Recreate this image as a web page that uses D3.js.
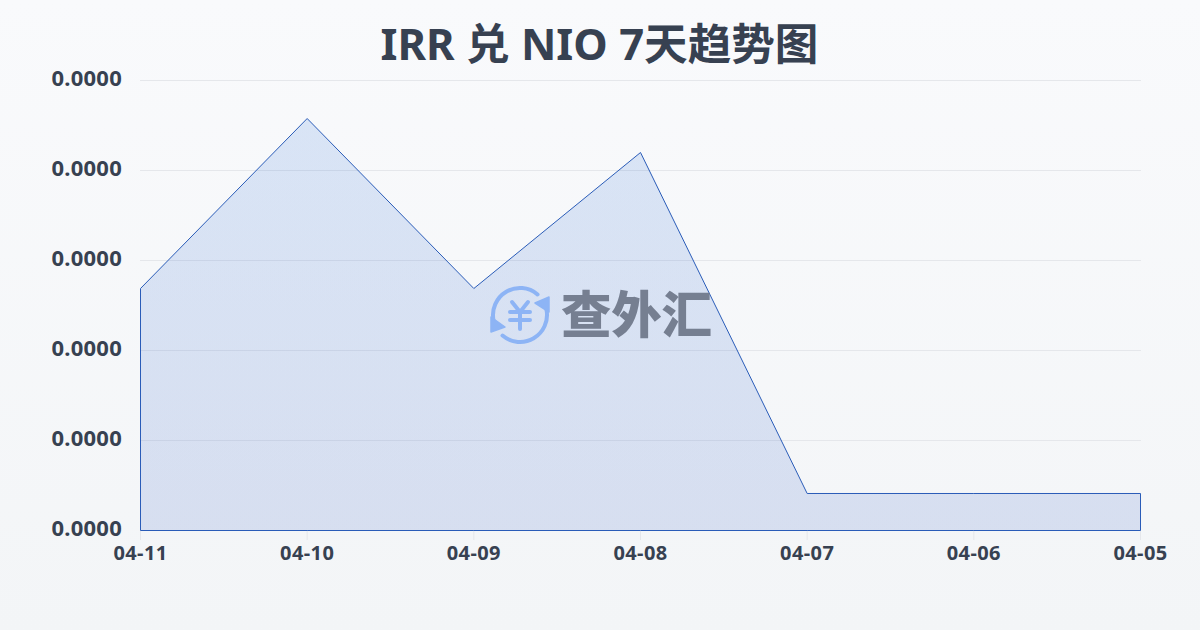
<!DOCTYPE html>
<html lang="zh"><head><meta charset="utf-8">
<script src="https://cdn.jsdelivr.net/npm/d3@7/dist/d3.min.js"></script>
<style>
html,body{margin:0;padding:0;width:1200px;height:630px;overflow:hidden}
svg{display:block}
text{font-family:"Noto Sans","Noto Sans CJK SC",sans-serif}
</style></head><body><svg id="c" width="1200" height="630"></svg>
<script>
const title = "IRR 兑 NIO 7天趋势图";
const dates = ["04-11","04-10","04-09","04-08","04-07","04-06","04-05"];
const rates = [0.00002151,0.00003662,0.00002151,0.00003360,0.00000329,0.00000329,0.00000329];
const yTicks = [0,0.000008,0.000016,0.000024,0.000032,0.00004];

const svg = d3.select("#c");
const defs = svg.append("defs");
const bg = defs.append("linearGradient").attr("id","bg").attr("x1",0).attr("y1",0).attr("x2",0).attr("y2",1);
bg.append("stop").attr("offset",0).attr("stop-color","#f9fafc");
bg.append("stop").attr("offset",1).attr("stop-color","#f3f5f7");
const ag = defs.append("linearGradient").attr("id","ag").attr("x1",0).attr("y1",0).attr("x2",0).attr("y2",1);
ag.append("stop").attr("offset",0).attr("stop-color","#2a6fd8").attr("stop-opacity",0.15);
ag.append("stop").attr("offset",1).attr("stop-color","#2350c0").attr("stop-opacity",0.14);
svg.append("rect").attr("width",1200).attr("height",630).attr("fill","url(#bg)");

const x = d3.scalePoint().domain(dates).range([140.5,1140.5]);
const y = d3.scaleLinear().domain([0,0.00004]).range([530.5,80.5]);

svg.append("text").attr("x",599.5).attr("y",60).attr("text-anchor","middle")
  .attr("font-size",43.6).attr("font-weight",700).attr("fill","#374151").text(title);

const grid = svg.append("g");
yTicks.forEach(t=>grid.append("line").attr("x1",140).attr("x2",1141)
  .attr("y1",y(t)).attr("y2",y(t)).attr("stroke","#e5e7eb").attr("stroke-width",1));

dates.forEach(d=>svg.append("line").attr("x1",x(d)).attr("x2",x(d)).attr("y1",530).attr("y2",540)
  .attr("stroke","#e5e7eb"));

const area = d3.area().x((d,i)=>x(dates[i])).y0(y(0)).y1(d=>y(d));
svg.append("path").datum(rates).attr("d",area).attr("fill","url(#ag)")
  .attr("stroke","#2a5cb8").attr("stroke-width",1);

yTicks.forEach(t=>svg.append("text").attr("x",122).attr("y",y(t)-2).attr("dy","0.35em")
  .attr("text-anchor","end").attr("font-size",22).attr("font-weight",700).attr("letter-spacing",0.25).attr("fill","#374151")
  .text(t.toFixed(4)));
dates.forEach(d=>svg.append("text").attr("x",x(d)).attr("y",560).attr("text-anchor","middle")
  .attr("font-size",20).attr("font-weight",700).attr("letter-spacing",0.4).attr("fill","#374151").text(d));

// watermark
const wm = svg.append("g");
const logo = wm.append("g").attr("transform","translate(520,315)");
const blue="#8db4f5";
const arc = d3.arc().innerRadius(25).outerRadius(29).cornerRadius(2);
logo.append("path").attr("d",arc({startAngle:-1.85,endAngle:0.78})).attr("fill",blue);
logo.append("path").attr("d",arc({startAngle:1.3,endAngle:3.92})).attr("fill",blue);
logo.append("path").attr("d","M29,-18 L29,-3 L15,-12 Z").attr("fill",blue).attr("stroke",blue).attr("stroke-width",1.5).attr("stroke-linejoin","round");
logo.append("path").attr("d","M-29,2 L-29,17 L-15,12 Z").attr("fill",blue).attr("stroke",blue).attr("stroke-width",1.5).attr("stroke-linejoin","round");
logo.append("path").attr("d","M-8,-13 L0,-3 L8,-13 M0,-3 L0,14 M-10,-3 L10,-3 M-10,5 L10,5").attr("fill","none").attr("stroke",blue).attr("stroke-width",4).attr("stroke-linecap","round").attr("stroke-linejoin","round");
wm.append("text").attr("x",561).attr("y",333).attr("font-size",50.5).attr("font-weight",900)
  .style("font-family",'"Noto Sans CJK SC"')
  .attr("fill","#767f91").attr("textLength",151).text("查外汇");
</script></body></html>
